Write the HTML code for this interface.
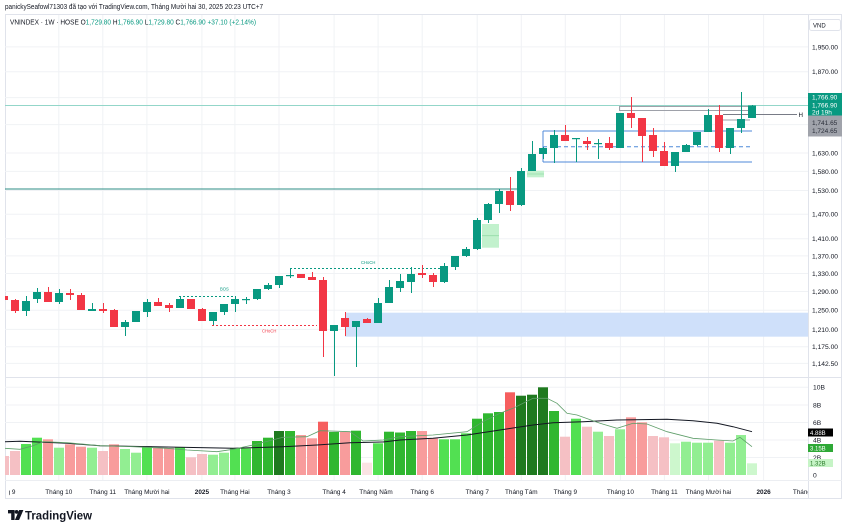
<!DOCTYPE html>
<html><head><meta charset="utf-8"><style>
html,body{margin:0;padding:0;background:#fff;width:849px;height:532px;overflow:hidden}
svg{display:block}
text{font-family:"Liberation Sans","Noto Sans CJK SC",sans-serif}
</style></head><body>
<svg width="849" height="532" viewBox="0 0 849 532" xmlns="http://www.w3.org/2000/svg">
<defs>
<clipPath id="pp"><rect x="5" y="15" width="803" height="362"/></clipPath>
<clipPath id="vp"><rect x="5" y="377" width="803" height="103"/></clipPath>
<clipPath id="xa"><rect x="9" y="480" width="799" height="18"/></clipPath>
</defs>
<rect width="849" height="532" fill="#fff"/>
<!-- header -->
<text x="5" y="9.2" font-size="7" fill="#131722" textLength="258" lengthAdjust="spacingAndGlyphs">panickySeafowl71303 đã tạo với TradingView.com, Tháng Mười hai 30, 2025 20:23 UTC+7</text>
<!-- frame -->
<rect x="5.5" y="14.5" width="836" height="484" fill="none" stroke="#e0e3eb"/>
<!-- grid -->
<g stroke="#f0f2f5" stroke-width="1">
<line x1="5" x2="808" y1="46.9" y2="46.9"/><line x1="5" x2="808" y1="71.7" y2="71.7"/><line x1="5" x2="808" y1="97.6" y2="97.6"/><line x1="5" x2="808" y1="124.6" y2="124.6"/>
<line x1="5" x2="808" y1="153" y2="153"/><line x1="5" x2="808" y1="171.4" y2="171.4"/><line x1="5" x2="808" y1="190.5" y2="190.5"/><line x1="5" x2="808" y1="214.2" y2="214.2"/>
<line x1="5" x2="808" y1="238.8" y2="238.8"/><line x1="5" x2="808" y1="255.9" y2="255.9"/><line x1="5" x2="808" y1="273.5" y2="273.5"/><line x1="5" x2="808" y1="291.5" y2="291.5"/>
<line x1="5" x2="808" y1="310.2" y2="310.2"/><line x1="5" x2="808" y1="329.4" y2="329.4"/><line x1="5" x2="808" y1="346.8" y2="346.8"/><line x1="5" x2="808" y1="363.4" y2="363.4"/>
<line x1="5" x2="808" y1="387.3" y2="387.3"/><line x1="5" x2="808" y1="405" y2="405"/><line x1="5" x2="808" y1="422.5" y2="422.5"/><line x1="5" x2="808" y1="440" y2="440"/><line x1="5" x2="808" y1="457.5" y2="457.5"/>
<g>
<line x1="58.8" x2="58.8" y1="15" y2="480"/><line x1="102.8" x2="102.8" y1="15" y2="480"/><line x1="146.9" x2="146.9" y1="15" y2="480"/><line x1="201.9" x2="201.9" y1="15" y2="480"/>
<line x1="234.9" x2="234.9" y1="15" y2="480"/><line x1="279" x2="279" y1="15" y2="480"/><line x1="334.1" x2="334.1" y1="15" y2="480"/><line x1="378.1" x2="378.1" y1="15" y2="480"/>
<line x1="422.2" x2="422.2" y1="15" y2="480"/><line x1="477.2" x2="477.2" y1="15" y2="480"/><line x1="521.3" x2="521.3" y1="15" y2="480"/><line x1="565.3" x2="565.3" y1="15" y2="480"/>
<line x1="620.4" x2="620.4" y1="15" y2="480"/><line x1="664.4" x2="664.4" y1="15" y2="480"/><line x1="708.5" x2="708.5" y1="15" y2="480"/><line x1="763.6" x2="763.6" y1="15" y2="480"/>
</g>
</g>
<text x="10" y="24.5" font-size="7" fill="#131722" textLength="246" lengthAdjust="spacingAndGlyphs">VNINDEX · 1W · HOSE <tspan>O</tspan><tspan fill="#089981">1,729.80</tspan> H<tspan fill="#089981">1,766.90</tspan> L<tspan fill="#089981">1,729.80</tspan> C<tspan fill="#089981">1,766.90</tspan> <tspan fill="#089981">+37.10 (+2.14%)</tspan></text>
<!-- price pane -->
<g clip-path="url(#pp)">
<rect x="345" y="312.7" width="463" height="24" fill="#cfe0fa"/>
<rect x="482" y="224" width="17" height="23.7" fill="#c2f1cd"/>
<line x1="482" x2="499" y1="235.7" y2="235.7" stroke="#94dca8" stroke-width="0.8"/>
<rect x="527" y="170.7" width="17" height="6.6" fill="#c2f1cd"/>
<line x1="527" x2="544" y1="174" y2="174" stroke="#94dca8" stroke-width="0.8"/>
<line x1="5" x2="808" y1="105.5" y2="105.5" stroke="#93d6c9" stroke-width="1"/>
<line x1="5" x2="519" y1="189" y2="189" stroke="#2d8c86" stroke-width="1"/>
<!-- range box -->
<g stroke="#4f8ad9" stroke-width="1" fill="none">
<line x1="543" x2="752" y1="131" y2="131"/>
<line x1="543" x2="752" y1="162" y2="162"/>
<line x1="543" x2="752" y1="146.7" y2="146.7" stroke-dasharray="4,3"/>
<line x1="543" x2="543" y1="131" y2="162"/>
</g>
<g stroke="#9ea1a9" stroke-width="1" fill="none">
<rect x="619.5" y="106.5" width="130" height="4"/>
<line x1="720" x2="750" y1="120" y2="120"/>
<line x1="723" x2="797" y1="114.5" y2="114.5" stroke="#787b86"/>
</g>
<!-- structure lines -->
<g stroke-width="1" stroke-dasharray="2,2" fill="none">
<line x1="179" x2="236" y1="296.5" y2="296.5" stroke="#089981"/>
<line x1="212" x2="317" y1="325.5" y2="325.5" stroke="#f23645"/>
<line x1="290" x2="442" y1="268.5" y2="268.5" stroke="#089981"/>
</g>
<text x="220" y="290.5" font-size="4.2" fill="#089981">BOS</text>
<text x="262" y="332.5" font-size="4.2" fill="#f23645">CHoCH</text>
<text x="361" y="263.8" font-size="4.2" fill="#089981">CHoCH</text>
<!-- candles -->
<g fill="#089981">
<rect x="26" y="296" width="1" height="20"/><rect x="22" y="301" width="8" height="10"/>
<rect x="37" y="288" width="1" height="15"/><rect x="33" y="292" width="8" height="7"/>
<rect x="59" y="289" width="1" height="15"/><rect x="55" y="293" width="8" height="9"/>
<rect x="92" y="303" width="1" height="8"/><rect x="88" y="309" width="8" height="2"/>
<rect x="125" y="320" width="1" height="16"/><rect x="121" y="322" width="8" height="5"/>
<rect x="136" y="311" width="1" height="11"/><rect x="132" y="311" width="8" height="11"/>
<rect x="147" y="299" width="1" height="18"/><rect x="143" y="302" width="8" height="10"/>
<rect x="180" y="297" width="1" height="11"/><rect x="176" y="299" width="8" height="9"/>
<rect x="213" y="312" width="1" height="13"/><rect x="209" y="312" width="8" height="9"/>
<rect x="224" y="304" width="1" height="11"/><rect x="220" y="304" width="8" height="8"/>
<rect x="235" y="297" width="1" height="15"/><rect x="231" y="299" width="8" height="5"/>
<rect x="246" y="297" width="1" height="7"/><rect x="242" y="299" width="8" height="1.2"/>
<rect x="257" y="289" width="1" height="11"/><rect x="253" y="289" width="8" height="10"/>
<rect x="268" y="283" width="1" height="7"/><rect x="264" y="285" width="8" height="4"/>
<rect x="279" y="276" width="1" height="12"/><rect x="275" y="276" width="8" height="9"/>
<rect x="290" y="268" width="1" height="10"/><rect x="286" y="275" width="8" height="1.2"/>
<rect x="334" y="325" width="1" height="51"/><rect x="330" y="325" width="8" height="6"/>
<rect x="356" y="321" width="1" height="46"/><rect x="352" y="321" width="8" height="6"/>
<rect x="378" y="298" width="1" height="25"/><rect x="374" y="303" width="8" height="20"/>
<rect x="389" y="280" width="1" height="23"/><rect x="385" y="287" width="8" height="16"/>
<rect x="400" y="274" width="1" height="18"/><rect x="396" y="281" width="8" height="7"/>
<rect x="411" y="267" width="1" height="26"/><rect x="407" y="274" width="8" height="8"/>
<rect x="444" y="263" width="1" height="20"/><rect x="440" y="266" width="8" height="16"/>
<rect x="455" y="256" width="1" height="14"/><rect x="451" y="256" width="8" height="11"/>
<rect x="466" y="247" width="1" height="10"/><rect x="462" y="249" width="8" height="7"/>
<rect x="477" y="218" width="1" height="32"/><rect x="473" y="220" width="8" height="29"/>
<rect x="488" y="203" width="1" height="20"/><rect x="484" y="204" width="8" height="16"/>
<rect x="499" y="189" width="1" height="24"/><rect x="495" y="191" width="8" height="13"/>
<rect x="521" y="168" width="1" height="38"/><rect x="517" y="171" width="8" height="34"/>
<rect x="532" y="141" width="1" height="30"/><rect x="528" y="154" width="8" height="17"/>
<rect x="543" y="147" width="1" height="12"/><rect x="539" y="148" width="8" height="6"/>
<rect x="554" y="130" width="1" height="33"/><rect x="550" y="135" width="8" height="13"/>
<rect x="576" y="138" width="1" height="24"/><rect x="572" y="138" width="8" height="1.2"/>
<rect x="598" y="139" width="1" height="20"/><rect x="594" y="143" width="8" height="1.2"/>
<rect x="620" y="113" width="1" height="35"/><rect x="616" y="113" width="8" height="35"/>
<rect x="675" y="152" width="1" height="20"/><rect x="671" y="152" width="8" height="14"/>
<rect x="686" y="144" width="1" height="8"/><rect x="682" y="145" width="8" height="7"/>
<rect x="697" y="132" width="1" height="14"/><rect x="693" y="132" width="8" height="13"/>
<rect x="708" y="109" width="1" height="23"/><rect x="704" y="115" width="8" height="17"/>
<rect x="730" y="128" width="1" height="26"/><rect x="726" y="128" width="8" height="20"/>
<rect x="741" y="92" width="1" height="41"/><rect x="737" y="119" width="8" height="9"/>
<rect x="752" y="105" width="1" height="13"/><rect x="748" y="105.5" width="8" height="12.5"/>
</g>
<g fill="#f23645">
<rect x="4" y="294" width="1" height="7"/><rect x="0" y="296" width="8" height="4"/>
<rect x="15" y="299" width="1" height="14"/><rect x="11" y="300" width="8" height="11"/>
<rect x="48" y="287" width="1" height="15"/><rect x="44" y="292" width="8" height="10"/>
<rect x="70" y="289" width="1" height="11"/><rect x="66" y="293" width="8" height="2"/>
<rect x="81" y="293" width="1" height="17"/><rect x="77" y="295" width="8" height="15"/>
<rect x="103" y="303" width="1" height="10"/><rect x="99" y="309" width="8" height="2"/>
<rect x="114" y="309" width="1" height="18"/><rect x="110" y="310" width="8" height="17"/>
<rect x="158" y="298" width="1" height="8"/><rect x="154" y="302" width="8" height="4"/>
<rect x="169" y="303" width="1" height="9"/><rect x="165" y="305" width="8" height="3"/>
<rect x="191" y="299" width="1" height="10"/><rect x="187" y="299" width="8" height="10"/>
<rect x="202" y="308" width="1" height="13"/><rect x="198" y="309" width="8" height="12"/>
<rect x="301" y="274" width="1" height="4"/><rect x="297" y="274" width="8" height="4"/>
<rect x="312" y="272" width="1" height="8"/><rect x="308" y="277" width="8" height="3"/>
<rect x="323" y="277" width="1" height="80"/><rect x="319" y="280" width="8" height="51"/>
<rect x="345" y="312" width="1" height="24"/><rect x="341" y="318" width="8" height="9"/>
<rect x="367" y="318" width="1" height="5"/><rect x="363" y="319" width="8" height="4"/>
<rect x="422" y="265" width="1" height="13"/><rect x="418" y="273" width="8" height="2"/>
<rect x="433" y="273" width="1" height="14"/><rect x="429" y="275" width="8" height="7"/>
<rect x="510" y="177" width="1" height="34"/><rect x="506" y="191" width="8" height="14"/>
<rect x="565" y="125" width="1" height="16"/><rect x="561" y="135" width="8" height="6"/>
<rect x="587" y="137" width="1" height="13"/><rect x="583" y="141" width="8" height="3"/>
<rect x="609" y="137" width="1" height="13"/><rect x="605" y="143" width="8" height="5"/>
<rect x="631" y="97" width="1" height="31"/><rect x="627" y="113" width="8" height="5"/>
<rect x="642" y="118" width="1" height="44"/><rect x="638" y="118" width="8" height="18"/>
<rect x="653" y="128" width="1" height="29"/><rect x="649" y="135" width="8" height="16"/>
<rect x="664" y="142" width="1" height="24"/><rect x="660" y="151" width="8" height="15"/>
<rect x="719" y="105" width="1" height="47"/><rect x="715" y="115" width="8" height="33"/>
</g>
</g>
<text x="798.5" y="116.8" font-size="6.2" fill="#131722">H</text>
<!-- volume pane -->
<g clip-path="url(#vp)">
<g>
<rect x="-1" y="456" width="10" height="19" fill="#f5c0c4"/>
<rect x="10" y="451" width="10" height="24" fill="#f5c0c4"/>
<rect x="21" y="444" width="10" height="31" fill="#52e052"/>
<rect x="32" y="437.7" width="10" height="37.3" fill="#52e052"/>
<rect x="43" y="439.3" width="10" height="35.7" fill="#f89c9c"/>
<rect x="54" y="447.7" width="10" height="27.3" fill="#92ee92"/>
<rect x="65" y="444.3" width="10" height="30.7" fill="#f89c9c"/>
<rect x="76" y="446.7" width="10" height="28.3" fill="#f89c9c"/>
<rect x="87" y="447.7" width="10" height="27.3" fill="#92ee92"/>
<rect x="98" y="451" width="10" height="24" fill="#f5c0c4"/>
<rect x="109" y="444.3" width="10" height="30.7" fill="#f89c9c"/>
<rect x="120" y="449" width="10" height="26" fill="#92ee92"/>
<rect x="131" y="452.7" width="10" height="22.3" fill="#92ee92"/>
<rect x="142" y="446.3" width="10" height="28.7" fill="#52e052"/>
<rect x="153" y="448" width="10" height="27" fill="#f89c9c"/>
<rect x="164" y="448" width="10" height="27" fill="#f89c9c"/>
<rect x="175" y="447.3" width="10" height="27.7" fill="#52e052"/>
<rect x="186" y="457.3" width="10" height="17.7" fill="#f5c0c4"/>
<rect x="197" y="454" width="10" height="21" fill="#f5c0c4"/>
<rect x="208" y="454.7" width="10" height="20.3" fill="#92ee92"/>
<rect x="219" y="452.7" width="10" height="22.3" fill="#92ee92"/>
<rect x="230" y="448.3" width="10" height="26.7" fill="#52e052"/>
<rect x="241" y="448.3" width="10" height="26.7" fill="#52e052"/>
<rect x="252" y="441" width="10" height="34" fill="#30b730"/>
<rect x="263" y="437.7" width="10" height="37.3" fill="#30b730"/>
<rect x="274" y="431" width="10" height="44" fill="#1f7a1f"/>
<rect x="285" y="431" width="10" height="44" fill="#30b730"/>
<rect x="296" y="435" width="10" height="40" fill="#f89c9c"/>
<rect x="307" y="438.3" width="10" height="36.7" fill="#f89c9c"/>
<rect x="318" y="421.7" width="10" height="53.3" fill="#f65e5e"/>
<rect x="329" y="432" width="10" height="43" fill="#30b730"/>
<rect x="340" y="432" width="10" height="43" fill="#f89c9c"/>
<rect x="351" y="430.7" width="10" height="44.3" fill="#30b730"/>
<rect x="362" y="462.7" width="10" height="12.3" fill="#fbe3e4"/>
<rect x="373" y="443.3" width="10" height="31.7" fill="#52e052"/>
<rect x="384" y="431.7" width="10" height="43.3" fill="#30b730"/>
<rect x="395" y="432.5" width="10" height="42.5" fill="#30b730"/>
<rect x="406" y="431" width="10" height="44" fill="#30b730"/>
<rect x="417" y="431" width="10" height="44" fill="#f89c9c"/>
<rect x="428" y="438.3" width="10" height="36.7" fill="#f89c9c"/>
<rect x="439" y="439.3" width="10" height="35.7" fill="#52e052"/>
<rect x="450" y="439.3" width="10" height="35.7" fill="#52e052"/>
<rect x="461" y="433.3" width="10" height="41.7" fill="#52e052"/>
<rect x="472" y="418.7" width="10" height="56.3" fill="#30b730"/>
<rect x="483" y="413.3" width="10" height="61.7" fill="#30b730"/>
<rect x="494" y="412" width="10" height="63" fill="#30b730"/>
<rect x="505" y="392.3" width="10" height="82.7" fill="#f65e5e"/>
<rect x="516" y="395.7" width="10" height="79.3" fill="#1f7a1f"/>
<rect x="527" y="394.7" width="10" height="80.3" fill="#1f7a1f"/>
<rect x="538" y="387.3" width="10" height="87.7" fill="#1f7a1f"/>
<rect x="549" y="411" width="10" height="64" fill="#30b730"/>
<rect x="560" y="436.7" width="10" height="38.3" fill="#f5c0c4"/>
<rect x="571" y="418.7" width="10" height="56.3" fill="#52e052"/>
<rect x="582" y="426.7" width="10" height="48.3" fill="#f5c0c4"/>
<rect x="593" y="431.7" width="10" height="43.3" fill="#92ee92"/>
<rect x="604" y="436" width="10" height="39" fill="#f5c0c4"/>
<rect x="615" y="429.3" width="10" height="45.7" fill="#92ee92"/>
<rect x="626" y="417.3" width="10" height="57.7" fill="#f89c9c"/>
<rect x="637" y="422.3" width="10" height="52.7" fill="#f89c9c"/>
<rect x="648" y="436" width="10" height="39" fill="#f5c0c4"/>
<rect x="659" y="437.3" width="10" height="37.7" fill="#f5c0c4"/>
<rect x="670" y="443.3" width="10" height="31.7" fill="#cdf7cd"/>
<rect x="681" y="441.7" width="10" height="33.3" fill="#92ee92"/>
<rect x="692" y="442.7" width="10" height="32.3" fill="#92ee92"/>
<rect x="703" y="442.7" width="10" height="32.3" fill="#92ee92"/>
<rect x="714" y="440.7" width="10" height="34.3" fill="#f5c0c4"/>
<rect x="725" y="442.7" width="10" height="32.3" fill="#92ee92"/>
<rect x="736" y="435" width="10" height="40" fill="#92ee92"/>
<rect x="747" y="463.3" width="10" height="11.7" fill="#cdf7cd"/>
</g>
<polyline fill="none" stroke="#131722" stroke-width="1" points="5,441.7 20,441.3 67,443.3 100,445.7 167,447 233,448.3 283,446.7 317,445 350,442.7 383,442 400,440 433,438.3 467,435 500,430 533,425 553,422.7 583,421.7 617,420 667,419.3 693,420.7 717,423.3 733,426.7 752,431.7"/>
<polyline fill="none" stroke="#5f9e6a" stroke-width="0.8" points="5,448.3 20,449.3 33,445.7 43,441.7 67,442.7 100,445.7 133,446.7 167,448.3 187,450 217,451.7 233,449.3 253,445 283,437.3 307,436.7 320,430.7 350,431.7 363,441 383,440 400,436.7 433,435 467,431.7 483,421.7 500,413.3 513,408.3 533,398.3 547,398.3 557,403.3 567,413.3 577,415 600,423.3 617,428.3 633,423.3 647,424 667,431.7 693,438.3 717,440 733,441 740,437.3 752,446.7"/>
</g>
<!-- separators -->
<line x1="808.5" x2="808.5" y1="15" y2="498" stroke="#e0e3eb"/>
<line x1="5" x2="842" y1="377.5" y2="377.5" stroke="#e0e3eb"/>
<line x1="5" x2="842" y1="480.5" y2="480.5" stroke="#eceef2"/>
<!-- price axis -->
<rect x="809.5" y="19.5" width="31" height="11" rx="2" fill="#fff" stroke="#e0e3eb"/>
<text x="813" y="27.4" font-size="6" fill="#131722">VND</text>
<g font-size="6.7" fill="#131722">
<text x="812" y="49.3">1,950.00</text>
<text x="812" y="74.1">1,870.00</text>
<text x="812" y="155.4">1,630.00</text>
<text x="812" y="173.8">1,580.00</text>
<text x="812" y="192.9">1,530.00</text>
<text x="812" y="216.6">1,470.00</text>
<text x="812" y="241.2">1,410.00</text>
<text x="812" y="258.3">1,370.00</text>
<text x="812" y="275.9">1,330.00</text>
<text x="812" y="293.9">1,290.00</text>
<text x="812" y="312.6">1,250.00</text>
<text x="812" y="331.8">1,210.00</text>
<text x="812" y="349.2">1,175.00</text>
<text x="812" y="365.8">1,142.50</text>
<text x="813" y="389.7">10B</text>
<text x="813" y="407.4">8B</text>
<text x="813" y="424.9">6B</text>
<text x="813" y="442.4">4B</text>
<text x="813" y="459.9">2B</text>
<text x="813" y="477.4">0</text>
</g>
<rect x="808" y="93" width="34" height="22.5" fill="#089981"/>
<g font-size="6.5" fill="#fff">
<text x="812" y="99.3">1,766.90</text>
<text x="812" y="107.6">1,766.90</text>
<text x="812" y="114.3">2d 19h</text>
</g>
<rect x="808" y="115.5" width="34" height="21" fill="#a0a3ab"/>
<g font-size="6.5" fill="#2a2e39">
<text x="812" y="125">1,741.65</text>
<text x="812" y="133.2">1,724.65</text>
</g>
<rect x="808" y="428.5" width="25" height="8" fill="#000"/>
<text x="810" y="435" font-size="6" fill="#fff">4.88B</text>
<rect x="808" y="444" width="25" height="8" fill="#2ea836"/>
<text x="810" y="450.5" font-size="6" fill="#fff">3.15B</text>
<rect x="808" y="459" width="25" height="8" fill="#c6f4c6"/>
<text x="810" y="465.5" font-size="6" fill="#2a7a2a">1.32B</text>
<!-- time axis -->
<g clip-path="url(#xa)" font-size="6.4" fill="#131722" text-anchor="middle">
<text x="3.7" y="494">Tháng 9</text>
<text x="58.8" y="494">Tháng 10</text>
<text x="102.8" y="494">Tháng 11</text>
<text x="146.9" y="494">Tháng Mười hai</text>
<text x="201.9" y="494" font-weight="bold">2025</text>
<text x="234.9" y="494">Tháng Hai</text>
<text x="279" y="494">Tháng 3</text>
<text x="334.1" y="494">Tháng 4</text>
<text x="376" y="494">Tháng Năm</text>
<text x="422.2" y="494">Tháng 6</text>
<text x="477.2" y="494">Tháng 7</text>
<text x="521.3" y="494">Tháng Tám</text>
<text x="565.3" y="494">Tháng 9</text>
<text x="620.4" y="494">Tháng 10</text>
<text x="664.4" y="494">Tháng 11</text>
<text x="708.5" y="494">Tháng Mười hai</text>
<text x="763.6" y="494" font-weight="bold">2026</text>
<text x="807.6" y="494">Tháng Hai</text>
</g>
<!-- logo -->
<g fill="#131722">
<path d="M8 510h6.6v10h-3.4v-6.6H8z"/>
<circle cx="16.6" cy="511.9" r="1.9"/>
<path d="M19.2 510h4.2l-4.3 10h-4.2z"/>
</g>
<text x="25" y="519.6" font-size="12" font-weight="bold" fill="#131722" textLength="67" lengthAdjust="spacingAndGlyphs">TradingView</text>
</svg>
</body></html>
